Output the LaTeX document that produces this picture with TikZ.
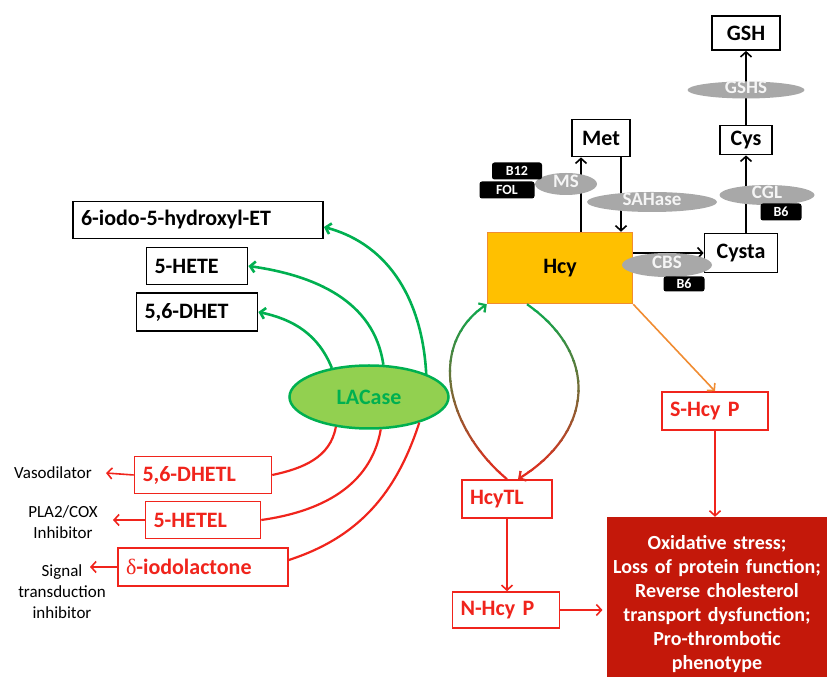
\documentclass[tikz,border=0pt]{standalone}
\usepackage{fontspec}
\setmainfont{Carlito}
\newfontfamily\deltafont{Liberation Serif}
\usetikzlibrary{arrows.meta,calc,shapes.geometric}

\definecolor{lagreen}{RGB}{0,176,80}
\definecolor{lafill}{RGB}{146,208,80}
\definecolor{hcyfill}{RGB}{255,192,0}
\definecolor{hcyline}{RGB}{240,140,50}
\definecolor{ltred}{RGB}{240,36,28}
\definecolor{dkred}{RGB}{196,24,10}
\definecolor{enzgray}{RGB}{168,168,168}

\tikzstyle{blkbox} = [draw, line width=1.8pt, fill=white, font=\fontsize{22}{24}\selectfont\bfseries, minimum height=37pt, inner xsep=8pt, inner ysep=2pt]
\tikzstyle{redbox} = [draw=ltred, line width=1.6pt, fill=white, text=ltred, font=\fontsize{22}{24}\selectfont\bfseries, minimum height=37pt, inner xsep=8pt, inner ysep=2pt, align=left]
\tikzstyle{enzyme} = [ellipse, fill=enzgray, text=white!92!gray, font=\fontsize{19}{20}\selectfont\bfseries, inner sep=0pt, text height=10pt, text depth=2pt]
\tikzstyle{vitamin} = [fill=black, rounded corners=2.5pt, text=white, font=\fontsize{14}{15}\selectfont\bfseries, inner sep=0pt, minimum height=17pt, text height=9pt, text depth=0pt]
\tikzstyle{sidetext} = [font=\fontsize{17}{21}\selectfont, align=center, inner sep=0pt]
\tikzstyle{blkarr} = [->, line width=1.6pt]
\tikzstyle{greenarc} = [->, draw=lagreen, line width=2.6pt]
\tikzstyle{redarc} = [draw=ltred, line width=2.2pt]
\tikzstyle{redarr} = [->, draw=ltred, line width=1.6pt]
\tikzstyle{looparc} = [->, line width=2.2pt]

\begin{document}
\begin{tikzpicture}[x=1pt, y=1pt, >={Straight Barb[length=5pt,width=11pt]}]
  \useasboundingbox (0,0) rectangle (827,677);

  % methionine / transsulfuration side
  \node[blkbox, minimum width=68pt, minimum height=34pt, inner xsep=2pt] (GSH) at (746,644) {GSH};
  \node[blkbox, minimum width=52pt, minimum height=29pt, inner xsep=2pt] (Cys) at (746,537) {Cys};
  \node[blkbox, minimum width=73pt, minimum height=39pt, inner xsep=2pt] (Cysta) at (741,424) {Cysta};
  \node[blkbox, minimum width=58pt, inner xsep=2pt] (Met) at (601,539) {Met};
  \node[draw=hcyline, line width=1.5pt, fill=hcyfill, minimum width=145pt, minimum height=71pt, font=\fontsize{22}{24}\selectfont\bfseries] (Hcy) at (560,409) {Hcy};

  \draw[blkarr] ([xshift=-20pt]Met.south |- Hcy.north) -- ([xshift=-20pt]Met.south);
  \draw[blkarr] ([xshift=20pt]Met.south) -- ([xshift=20pt]Met.south |- Hcy.north);
  \draw[blkarr] (Hcy.east |- Cysta.west) -- (Cysta.west);
  \draw[blkarr] (Cys.south |- Cysta.north) -- (Cys.south);
  \draw[blkarr] (Cys.north) -- (GSH.south);

  \node[enzyme, minimum width=117pt, minimum height=17pt] (GSHS) at (746,587) {GSHS};
  \node[enzyme, minimum width=95pt, minimum height=20pt] (CGL) at (767,482) {CGL};
  \node[enzyme, minimum width=62pt, minimum height=22pt] (MS) at (566,493) {MS};
  \node[enzyme, minimum width=130pt, minimum height=20pt] (SAHase) at (652,475) {SAHase};
  \node[enzyme, minimum width=90pt, minimum height=24pt] (CBS) at (667,412) {CBS};

  \node[vitamin, minimum width=50pt] (B12) at (517,506) {B12};
  \node[vitamin, minimum width=55pt] (FOL) at (507,487) {FOL};
  \node[vitamin, minimum width=41pt] (B6cgl) at (781,465) {B6};
  \node[vitamin, minimum width=41pt, minimum height=15pt] (B6cbs) at (684,393) {B6};

  % LACase products
  \node[ellipse, draw=lagreen, line width=2.5pt, fill=lafill, text=lagreen, minimum width=159pt, minimum height=63pt, inner sep=0pt, font=\fontsize{22}{24}\selectfont\bfseries] (LACase) at (369,280) {LACase};

  \node[blkbox, text width=234pt, align=left] (iodoET) at (198,457) {6-iodo-5-hydroxyl-ET};
  \node[blkbox, text width=85pt, align=left] (HETE) at (197,411) {5-HETE};
  \node[blkbox, text width=105pt, align=left, minimum height=38pt] (DHET) at (197,365) {5,6-DHET};

  \draw[greenarc] (LACase.142) to[out=112,in=-12] (DHET.east);
  \draw[greenarc] (LACase.66) to[out=98,in=-8] (HETE.east);
  \draw[greenarc] (LACase.22) to[out=93,in=-15] ([yshift=-7pt]iodoET.east);

  \node[redbox, text width=121pt] (DHETL) at (203,202) {5,6-DHETL};
  \node[redbox, text width=99pt] (HETEL) at (203,157) {5-HETEL};
  \node[redbox, text width=154pt, minimum height=38pt] (dlac) at (203,110) {{\deltafont\mdseries δ}-iodolactone};

  \draw[redarc] (LACase.222) to[out=-100,in=12] (DHETL.east);
  \draw[redarc] (LACase.290) to[out=-100,in=8] (HETEL.east);
  \draw[redarc] (LACase.333) to[out=-108,in=18] ([yshift=7pt]dlac.east);

  \node[sidetext] (vaso) at (53,204) {Vasodilator};
  \node[sidetext] (pla) at (63,155) {PLA2/COX\\Inhibitor};
  \node[sidetext] (sig) at (62,85) {Signal\\transduction\\inhibitor};
  \coordinate (vasotip) at (106,204);
  \coordinate (platip) at (113,157);
  \coordinate (sigtip) at (90,110);

  \draw[redarr] (DHETL.west) -- (vasotip);
  \draw[redarr] (HETEL.west) -- (platip);
  \draw[redarr] (dlac.west) -- (sigtip);

  % thiolactone loop and protein damage
  \node[redbox, text width=74pt, minimum height=38pt] (HcyTL) at (507,178) {HcyTL};
  \node[redbox, text width=91pt, minimum height=36pt] (NHcyP) at (506,67) {N-Hcy P};
  \node[redbox, text width=90pt, minimum height=38pt] (SHcyP) at (715,266) {S-Hcy P};
  \node[fill=dkred, text=white, minimum width=220pt, minimum height=174pt, text width=214pt, align=center, font=\fontsize{20}{24}\selectfont\bfseries] (effect) at (717,73) {Oxidative stress;\\Loss of protein function;\\Reverse cholesterol\\transport dysfunction;\\Pro-thrombotic\\phenotype};

  \foreach \i in {0,...,19} {
    \pgfmathsetmacro{\mix}{100*\i/19}
    \begin{scope}
      \clip (420,{185+10*\i}) rectangle (640,{196+10*\i});
      \draw[looparc, draw=lagreen!\mix!ltred] (HcyTL.north) to[out=140,in=215,looseness=1.1] (Hcy.south west);
      \draw[looparc, draw=lagreen!\mix!ltred] ([xshift=-33pt]Hcy.south) to[out=-35,in=32,looseness=1.3] ([xshift=11pt]HcyTL.north);
    \end{scope}
  }

  \draw[->, draw=hcyline, line width=1.6pt] (Hcy.south east) -- (SHcyP.north);
  \draw[redarr] (SHcyP.south) -- (SHcyP.south |- effect.north);
  \draw[redarr] (HcyTL.south) -- (HcyTL.south |- NHcyP.north);
  \draw[redarr, shorten >=4pt] (NHcyP.east) -- (NHcyP.east -| effect.west);
\end{tikzpicture}
\end{document}
